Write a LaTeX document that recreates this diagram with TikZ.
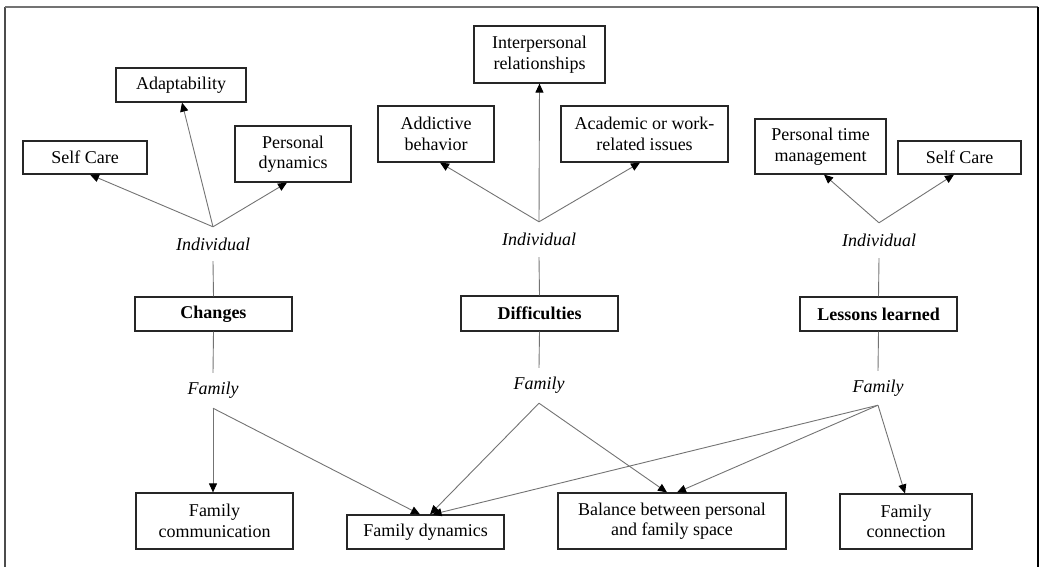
\documentclass[tikz,border=0pt]{standalone}
\usepackage{fontspec}
\setmainfont{Liberation Serif}
\usetikzlibrary{arrows.meta}
\begin{document}
\begin{tikzpicture}[x=1pt,y=-1pt,
 box/.style={draw=black!85,line width=1.2pt,inner sep=0pt,align=center,font=\fontsize{18}{20.5}\selectfont},
 head/.style={box,font=\fontsize{18}{20.5}\selectfont\bfseries},
 lab/.style={inner sep=0pt,font=\fontsize{18}{20.5}\selectfont\itshape},
 conn/.style={draw=black!55,line width=0.9pt},
 arr/.style={conn,-{Triangle[color=black,width=8pt,length=9pt]}},
 frame/.style={line width=1.3pt}]
\useasboundingbox (0,0) rectangle (1039,567);
% frame
\coordinate (fbl) at (5,567);
\coordinate (ftl) at (5,7);
\coordinate (ftr) at (1038,7);
\coordinate (fbr) at (1038,567);
\draw[frame,draw=black!70] (fbl) -- (ftl);
\draw[frame,draw=black!55,line width=2pt] (ftl) -- (ftr);
\draw[frame,draw=black] (ftr) -- (fbr);

% top boxes
\node[box,minimum width=124pt,minimum height=33pt] (sc1) at (85,157.5) {Self Care};
\node[box,minimum width=130pt,minimum height=34pt] (ad) at (181,85) {Adaptability};
\node[box,minimum width=116pt,minimum height=56pt] (pd) at (293,154) {Personal\\dynamics};
\node[box,minimum width=131pt,minimum height=57pt] (ir) at (539.5,54.5) {Interpersonal\\relationships};
\node[box,minimum width=116pt,minimum height=56pt] (ab) at (436,134) {Addictive\\behavior};
\node[box,minimum width=167pt,minimum height=56pt] (ac) at (644.5,134) {Academic or work-\\related issues};
\node[box,minimum width=131pt,minimum height=55pt] (ptm) at (820.5,146.5) {Personal time\\management};
\node[box,minimum width=123pt,minimum height=33pt] (sc2) at (959.5,157.5) {Self Care};

% individual labels
\node[lab,minimum height=34pt] (i1) at (213,244) {Individual};
\node[lab,minimum height=35pt] (i2) at (539,239.5) {Individual};
\node[lab,minimum height=35pt] (i3) at (879,240.5) {Individual};

% main boxes
\node[head,minimum width=157pt,minimum height=34pt] (ch) at (213.5,314) {Changes};
\node[head,minimum width=157pt,minimum height=35pt] (df) at (539.5,313.5) {Difficulties};
\node[head,minimum width=157pt,minimum height=34pt] (ll) at (878.5,314) {Lessons learned};

% family labels
\node[lab,minimum height=35pt] (f1) at (213,390.5) {Family};
\node[lab,minimum height=35pt] (f2) at (539,385.5) {Family};
\node[lab,minimum height=34pt] (f3) at (878,388) {Family};

% bottom boxes
\node[box,minimum width=157pt,minimum height=56pt] (fc) at (214.5,521) {Family\\communication};
\node[box,minimum width=157pt,minimum height=34pt] (fd) at (425.5,532) {Family dynamics};
\node[box,minimum width=228pt,minimum height=56pt] (bal) at (672,521) {Balance between personal\\and family space};
\node[box,minimum width=132pt,minimum height=55pt] (fcn) at (906,521.5) {Family\\connection};

% vertical links
\draw[conn] (i1.south) -- (ch.north);
\draw[conn] (ch.south) -- (f1.north);
\draw[conn] (i2.south) -- (df.north);
\draw[conn] (df.south) -- (f2.north);
\draw[conn] (i3.south) -- (ll.north);
\draw[conn] (ll.south) -- (f3.north);

% upward arrows
\draw[arr] (i1.north) -- ([xshift=5pt]sc1.south);
\draw[arr] (i1.north) -- ([xshift=1pt]ad.south);
\draw[arr] (i1.north) -- ([xshift=-6pt]pd.south);
\draw[arr] (i2.north) -- ([xshift=4pt]ab.south);
\draw[arr] (i2.north) -- (ir.south);
\draw[arr] (i2.north) -- ([xshift=-4.5pt]ac.south);
\draw[arr] (i3.north) -- ([xshift=3.5pt]ptm.south);
\draw[arr] (i3.north) -- ([xshift=-5.5pt]sc2.south);

% downward arrows
\draw[arr] (f1.south) -- ([xshift=-1.5pt]fc.north);
\draw[arr] (f1.south) -- ([xshift=-5.5pt]fd.north);
\draw[arr] (f2.south) -- ([xshift=4.5pt]fd.north);
\draw[arr] (f2.south) -- ([xshift=-5pt]bal.north);
\draw[arr] (f3.south) -- ([xshift=7pt]fd.north);
\draw[arr] (f3.south) -- ([xshift=5pt]bal.north);
\draw[arr] (f3.south) -- ([xshift=-1pt]fcn.north);
\end{tikzpicture}
\end{document}
